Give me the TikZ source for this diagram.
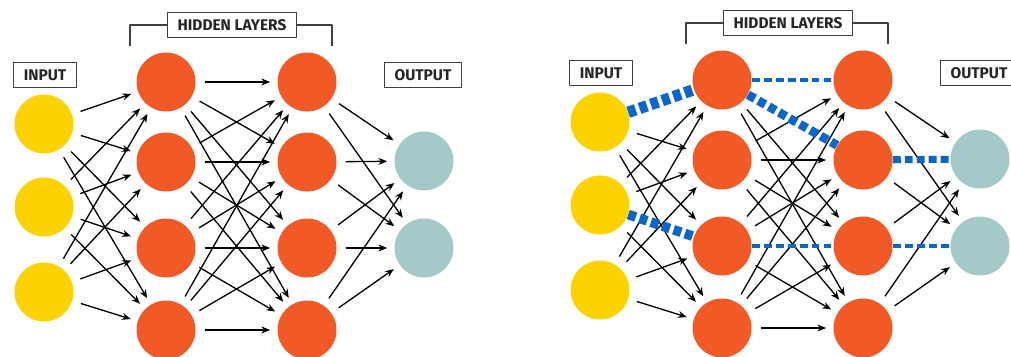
\documentclass[tikz,border=0pt]{standalone}
\usepackage{fontspec}
\setmainfont{Fira Sans}
\usetikzlibrary{arrows.meta}
\definecolor{cin}{HTML}{FCD200}
\definecolor{chid}{HTML}{F15A27}
\definecolor{cout}{HTML}{A3C9C9}
\definecolor{cblue}{HTML}{0A66C8}
\begin{document}
\begin{tikzpicture}[x=0.02cm, y=-0.02cm, line join=round, >={Stealth[length=5pt,width=4pt]},
	neuron/.style={circle, minimum size=1.18cm, inner sep=0pt, draw=none},
	conn/.style={->, line width=0.75pt, shorten <=5pt, shorten >=4pt},
	link/.style={draw=cblue, line width=#1, dash pattern=on 4.5pt off 2.3pt},
	tag/.style={draw=black!75, line width=0.8pt, fill=white, text=black!85,
		font=\bfseries\fontsize{8.8}{10}\selectfont, inner xsep=0.2cm, minimum height=0.5cm}]

	\useasboundingbox (0,0) rectangle (1011,356);

	% Hai mạng: bên trái (L) và bên phải (R)
	\foreach \n/\dx/\dy in {L/0/0, R/556/-2} {
		\begin{scope}[shift={(\dx,\dy)}]
			\foreach \i/\y in {1/124,2/207,3/292}
				\node[neuron, fill=cin] (\n I\i) at (44,\y) {};
			\foreach \i/\y in {1/82,2/162,3/248,4/330} {
				\node[neuron, fill=chid] (\n A\i) at (166,\y) {};
				\node[neuron, fill=chid] (\n B\i) at (307,\y) {};
			}
			\foreach \i/\y in {1/161,2/248}
				\node[neuron, fill=cout] (\n O\i) at (424,\y) {};
			% Nhãn các lớp
			\node[tag] (\n in) at (45,75) {INPUT};
			\node[tag] (\n out) at (423,75) {OUTPUT};
			\node[tag] (\n hid) at (232,25) {HIDDEN LAYERS};
			\coordinate (\n hl) at (130,46);
			\coordinate (\n hr) at (332,46);
			\draw[black!75, line width=0.8pt] (\n hid.west) -| (\n hl);
			\draw[black!75, line width=0.8pt] (\n hid.east) -| (\n hr);
		\end{scope}
	}

	% Mạng bên trái: nối đầy đủ
	\foreach \a in {1,2,3}
		\foreach \b in {1,...,4}
			\draw[conn] (LI\a) -- (LA\b);
	\foreach \a in {1,...,4}
		\foreach \b in {1,...,4}
			\draw[conn] (LA\a) -- (LB\b);
	\foreach \a in {1,...,4}
		\foreach \b in {1,2}
			\draw[conn] (LB\a) -- (LO\b);

	% Mạng bên phải: bỏ các cạnh được tô xanh
	\foreach \a/\b in {1/2,1/3,1/4,2/1,2/2,2/4,3/1,3/2,3/3,3/4}
		\draw[conn] (RI\a) -- (RA\b);
	\foreach \a/\b in {1/3,1/4,2/1,2/2,2/3,2/4,3/1,3/2,3/4,4/1,4/2,4/3,4/4}
		\draw[conn] (RA\a) -- (RB\b);
	\foreach \a/\b in {1/1,1/2,2/2,3/1,4/1,4/2}
		\draw[conn] (RB\a) -- (RO\b);

	% Đường đi được tô xanh
	\draw[link=6.5pt] (RI1) -- (RA1);
	\draw[link=5.5pt] (RI2) -- (RA3);
	\draw[link=2.8pt] (RA1) -- (RB1);
	\draw[link=5pt] (RA1) -- (RB2);
	\draw[link=2.8pt] (RA3) -- (RB3);
	\draw[link=4pt] (RB2) -- (RO1);
	\draw[link=2.8pt] (RB3) -- (RO2);

\end{tikzpicture}
\end{document}
